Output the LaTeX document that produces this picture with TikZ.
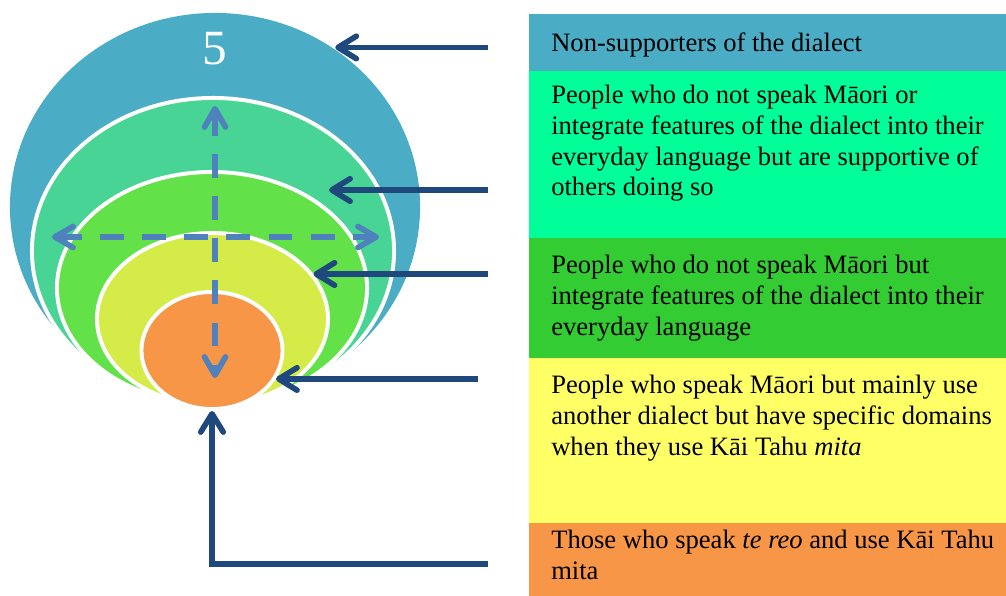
\documentclass[tikz,border=0pt]{standalone}
\usepackage{fontspec}
\setmainfont{Liberation Serif}
\usetikzlibrary{arrows.meta, shapes.geometric}

\definecolor{ringblue}{RGB}{75,172,198}
\definecolor{ringteal}{RGB}{72,212,148}
\definecolor{ringgreen}{RGB}{98,226,72}
\definecolor{ringyellow}{RGB}{212,235,72}
\definecolor{ringorange}{RGB}{247,150,70}
\definecolor{boxmint}{RGB}{0,255,153}
\definecolor{boxgreen}{RGB}{51,204,51}
\definecolor{boxyellow}{RGB}{255,255,102}
\definecolor{navy}{RGB}{31,73,125}
\definecolor{dashblue}{RGB}{79,129,189}

\begin{document}
\begin{tikzpicture}[
        x = 0.025cm, y = -0.025cm, % one unit is one pixel of the sketch
        ring/.style 2 args = {
            ellipse,
            draw = white,
            line width = 2.8pt,
            inner sep = 0pt,
            minimum width = #1*0.05cm,
            minimum height = #2*0.05cm
        },
        box/.style = {
            rectangle,
            anchor = north west,
            inner sep = 0pt,
            minimum width = 477*0.025cm,
            minimum height = #1*0.025cm
        },
        boxtext/.style = {
            anchor = north west,
            inner sep = 0pt,
            align = left,
            font = \fontsize{18.9}{21.8}\selectfont
        },
        pointer/.style = {
            draw = navy,
            line width = 4pt,
            -{Straight Barb[length=13pt, width=16pt, round]}
        },
        guide/.style = {
            draw = dashblue,
            line width = 4pt,
            dash pattern = on 17pt off 13pt,
            {Straight Barb[length=13pt, width=15pt, round]}-{Straight Barb[length=13pt, width=15pt, round]}
        }
    ]

    \useasboundingbox (0,0) rectangle (1006,596);

    % nested rings, outermost first
    \node[ring={205}{194}, draw=none, fill=ringblue] (r1) at (215,207) {};
    \node[ring={181}{153}, fill=ringteal] (r2) at (213,251) {};
    \node[ring={155}{116}, fill=ringgreen] (r3) at (212,288) {};
    \node[ring={115.5}{86}, fill=ringyellow] (r4) at (212.5,319) {};
    \node[ring={70.5}{58.5}, fill=ringorange] (r5) at (212,350.5) {};

    \node[text=white, font=\fontsize{35}{35}\selectfont] (five) at (214.5,49) {5};

    % dashed cross
    \coordinate (hl) at (52,237);
    \coordinate (hr) at (379,237);
    \coordinate (vt) at (215,106);
    \coordinate (vb) at (215,378);
    \draw[guide] (hl) -- (hr);
    \draw[guide] (vt) -- (vb);

    % legend boxes
    \node[box=57, fill=ringblue] (b1) at (529,14) {};
    \node[box=167, fill=boxmint] (b2) at (529,71) {};
    \node[box=119.5, fill=boxgreen] (b3) at (529,238) {};
    \node[box=165.5, fill=boxyellow] (b4) at (529,357.5) {};
    \node[box=73, fill=ringorange] (b5) at (529,523) {};

    \node[boxtext] (t1) at (551,33) {Non-supporters of the dialect};
    \node[boxtext] (t2) at (551,85) {People who do not speak Māori or\\integrate features of the dialect into their\\everyday language but are supportive of\\others doing so};
    \node[boxtext] (t3) at (551,255) {People who do not speak Māori but\\integrate features of the dialect into their\\everyday language};
    \node[boxtext] (t4) at (551,375) {People who speak Māori but mainly use\\another dialect but have specific domains\\when they use Kāi Tahu \textit{mita}};
    \node[boxtext] (t5) at (551,530) {Those who speak \textit{te reo} and use Kāi Tahu\\mita};

    % pointers from the legend to the rings
    \coordinate (s1) at (488,49);
    \coordinate (s2) at (488,190);
    \coordinate (p2) at (329,190);
    \coordinate (s3) at (488,277);
    \coordinate (s4) at (478,379);
    \coordinate (s5) at (488,564);

    \draw[pointer] (r1.53 -| s1) -- (r1.53);
    \draw[pointer] (s2) -- (p2);
    \draw[pointer] (r4.24 -| s3) -- (r4.24);
    \draw[pointer] (r5.336 -| s4) -- (r5.336);
    \draw[pointer] (s5) -| (r5.south);
\end{tikzpicture}
\end{document}
